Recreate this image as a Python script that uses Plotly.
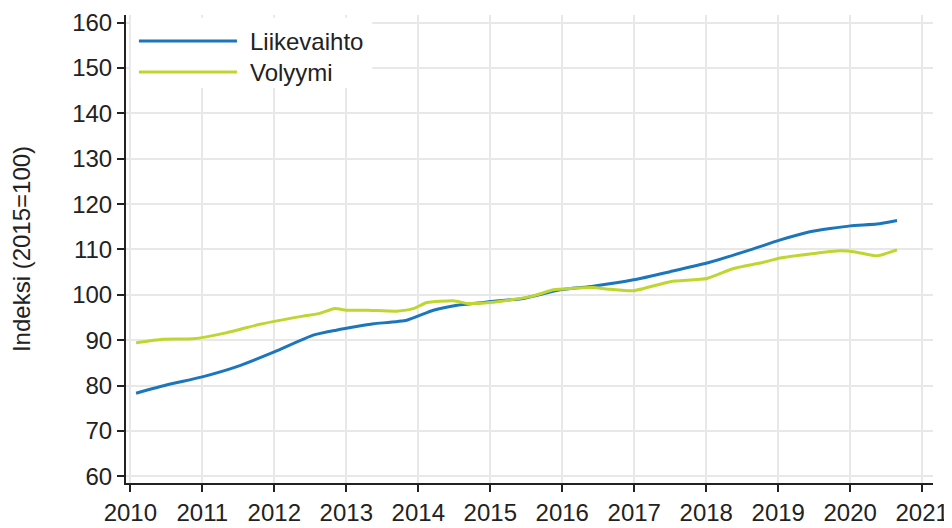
import plotly.graph_objects as go

# Liikevaihto (turnover) trend, decimal year -> index
liike_t = [2010.08, 2010.5, 2011.0, 2011.47, 2012.0, 2012.54, 2012.86, 2013.14, 2013.38,
           2013.84, 2014.21, 2014.54, 2015.0, 2015.46, 2015.97, 2016.43, 2016.99, 2017.5,
           2018.01, 2018.61, 2019.03, 2019.44, 2020.0, 2020.37, 2020.65]
liike_v = [78.3, 80.1, 81.9, 84.1, 87.4, 91.1, 92.2, 93.0, 93.6,
           94.4, 96.6, 97.7, 98.5, 99.2, 101.1, 101.9, 103.3, 105.1,
           107.0, 109.9, 112.1, 113.9, 115.2, 115.6, 116.4]

# Volyymi (volume) trend
vol_t = [2010.08, 2010.45, 2010.87, 2011.33, 2011.8, 2012.4, 2012.63, 2012.84, 2013.0,
         2013.29, 2013.7, 2013.94, 2014.12, 2014.49, 2014.68, 2015.0, 2015.56, 2015.88,
         2016.11, 2016.43, 2016.67, 2016.99, 2017.5, 2018.01, 2018.38, 2018.75,
         2019.03, 2019.44, 2019.86, 2020.09, 2020.37, 2020.65]
vol_v = [89.4, 90.2, 90.3, 91.6, 93.5, 95.3, 95.9, 97.0, 96.6,
         96.6, 96.4, 97.0, 98.3, 98.7, 98.1, 98.3, 99.6, 101.1,
         101.4, 101.6, 101.2, 100.9, 102.9, 103.6, 105.8, 107.0,
         108.1, 109.0, 109.7, 109.4, 108.6, 109.9]

series_names = ["Liikevaihto", "Volyymi"]
series_colors = ["#1b76bb", "#bed62f"]

x_ticks = list(range(2010, 2022))
y_ticks = list(range(60, 161, 10))

font = "Liberation Sans, Arial, sans-serif"

fig = go.Figure()
for name, color, t, v in zip(series_names, series_colors, [liike_t, vol_t], [liike_v, vol_v]):
    fig.add_trace(go.Scatter(x=t, y=v, mode="lines", name=name, showlegend=False,
                             line=dict(color=color, width=3, shape="spline", smoothing=0.5)))

# Manual legend (box, line samples, labels) in plot-area paper coordinates
fig.add_shape(type="rect", xref="paper", yref="paper", x0=0.006, x1=0.305, y0=0.844, y1=0.994,
              fillcolor="white", line=dict(width=0), layer="above")
legend_y = [0.9444, 0.878]
for name, color, ly in zip(series_names, series_colors, legend_y):
    fig.add_shape(type="line", xref="paper", yref="paper", x0=0.016, x1=0.1375, y0=ly, y1=ly,
                  line=dict(color=color, width=3), layer="above")
    fig.add_annotation(xref="paper", yref="paper", x=0.151, y=ly, text=name, showarrow=False,
                       xanchor="left", yanchor="middle", font=dict(size=24, color="#222"))

fig.update_layout(
    width=944, height=520,
    margin=dict(l=118, r=19, t=7, b=45),
    paper_bgcolor="white", plot_bgcolor="white",
    font=dict(family=font, size=24, color="#222"),
    showlegend=False,
)
fig.update_xaxes(range=[2009.94, 2021.15], tickvals=x_ticks, ticktext=[str(v) for v in x_ticks],
                 showgrid=True, gridcolor="#e8e8e8", gridwidth=1.5,
                 showline=True, linecolor="#222", linewidth=2,
                 ticks="outside", ticklen=7, tickwidth=2, tickcolor="#222",
                 zeroline=False, tickfont=dict(size=24), automargin=False)
fig.update_yaxes(range=[58.5, 161.7], tickvals=y_ticks,
                 showgrid=True, gridcolor="#e8e8e8", gridwidth=1.5,
                 showline=True, linecolor="#222", linewidth=2,
                 ticks="outside", ticklen=7, tickwidth=2, tickcolor="#222",
                 zeroline=False, tickfont=dict(size=24), automargin=False,
                 title=dict(text="Indeksi (2015=100)", font=dict(size=24), standoff=36))

fig.write_html("out.html")
